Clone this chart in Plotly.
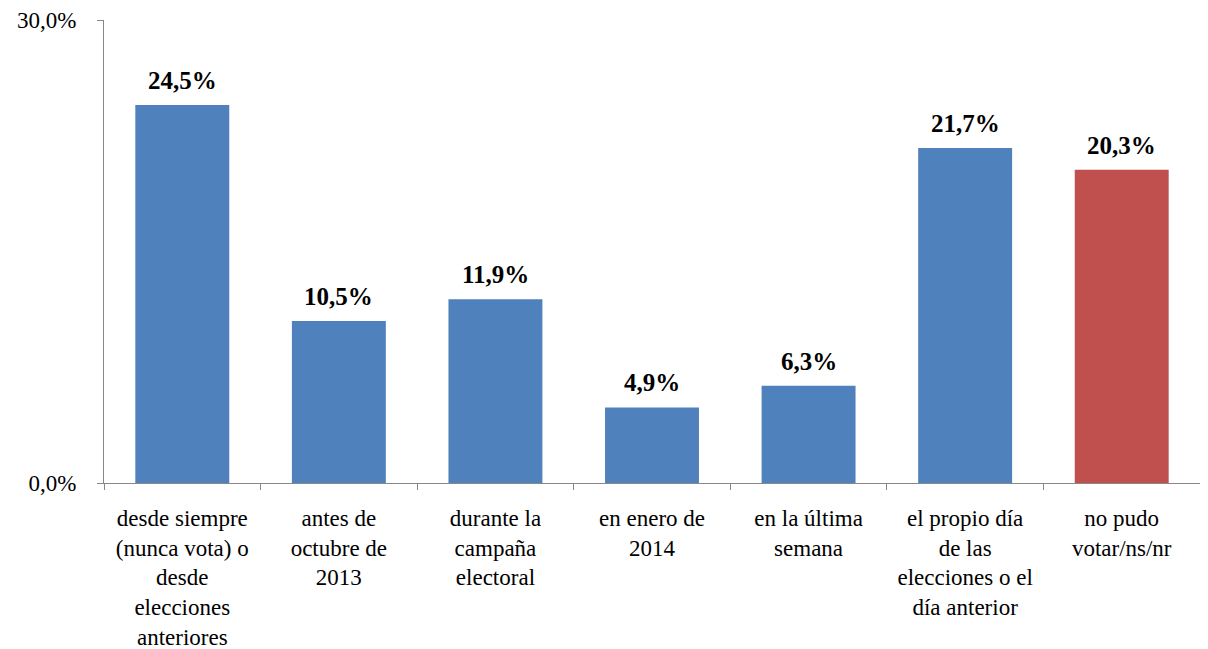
import plotly.graph_objects as go

categories = ["desde siempre<br>(nunca vota) o<br>desde<br>elecciones<br>anteriores",
              "antes de<br>octubre de<br>2013",
              "durante la<br>campaña<br>electoral",
              "en enero de<br>2014",
              "en la última<br>semana",
              "el propio día<br>de las<br>elecciones o el<br>día anterior",
              "no pudo<br>votar/ns/nr"]
values = [24.5, 10.5, 11.9, 4.9, 6.3, 21.7, 20.3]
colors = ["#4F81BD"] * 6 + ["#C0504D"]
y_ticks = [0, 30]
y_ticklabels = ["0,0%", "30,0%"]

serif = "serif"

fig = go.Figure(go.Bar(
    x=categories, y=values,
    marker=dict(color=colors, line=dict(width=0)),
    width=0.6,
    cliponaxis=False,
    hovertemplate="%{y:.1f}%<extra></extra>",
))

# value labels above bars, a bit higher than plotly's default "outside" text
for cat, v in zip(categories, values):
    fig.add_annotation(x=cat, y=v, text="<b>%s%%</b>" % ("%.1f" % v).replace(".", ","),
                       showarrow=False, yanchor="bottom", yshift=9,
                       font=dict(size=25, color="black", family=serif))

fig.update_layout(
    width=1200, height=643,
    margin=dict(l=96, r=8, t=12, b=168),
    plot_bgcolor="white", paper_bgcolor="white",
    separators=",.",
    font=dict(family=serif, size=23, color="black"),
    showlegend=False,
)
fig.update_xaxes(showline=True, linecolor="#888888", linewidth=1,
                 ticks="outside", tickson="boundaries", ticklen=6, tickcolor="#888888",
                 tickangle=0, tickfont=dict(size=23, family=serif), automargin=False,
                 ticklabelstandoff=14)
fig.update_yaxes(range=[0, 30], tickvals=y_ticks, ticktext=y_ticklabels,
                 showline=True, linecolor="#888888", linewidth=1,
                 ticks="outside", ticklen=6, tickcolor="#888888",
                 showgrid=False, zeroline=False, tickfont=dict(size=23, family=serif),
                 automargin=False, ticklabeloverflow="allow", ticklabelstandoff=16)

fig.write_html("out.html")
